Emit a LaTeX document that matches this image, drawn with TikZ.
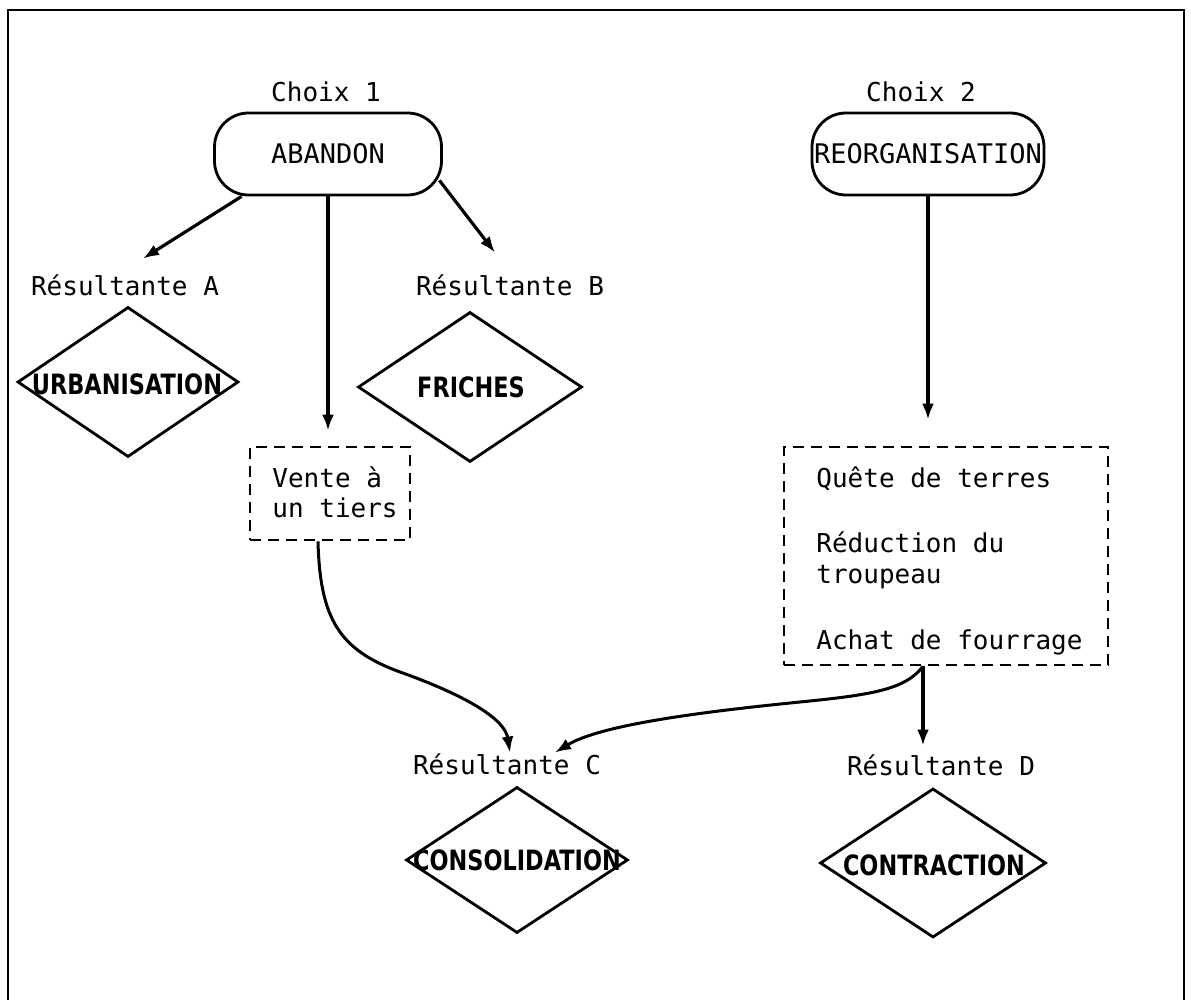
\documentclass[tikz,border=0pt]{standalone}
\usepackage{fontspec}
\usetikzlibrary{shapes.geometric,arrows.meta}
\newfontfamily\monofont{DejaVu Sans Mono}
\newfontfamily\heavyfont{DejaVu Sans}[FakeStretch=0.8]

\tikzset{
  lbl/.style={font=\monofont\fontsize{13}{15.5}\selectfont, inner sep=1pt,
    text height=10pt, text depth=3pt},
  choice/.style={draw, line width=1.4pt, rounded corners=17pt,
    minimum height=41pt, inner sep=0pt,
    font=\monofont\fontsize{13.5}{16}\selectfont},
  dia/.style={draw, diamond, line width=1.4pt, inner sep=0pt},
  dlabel/.style={font=\heavyfont\bfseries\fontsize{14}{16}\selectfont, inner sep=0pt},
  dbox/.style={draw, dash pattern=on 5.5pt off 3.5pt, line width=1.4pt, inner sep=0pt},
  arr/.style={line width=1.6pt, -{Latex[length=8pt,width=6pt]}},
  curvearr/.style={line width=1.5pt, -{Latex[length=8pt,width=6pt]}},
  frameline/.style={line width=1.4pt}
}

\begin{document}
\begin{tikzpicture}[x=0.5pt,y=-0.5pt]
\useasboundingbox (0,0) rectangle (1191,1000);

% outer frame, open at the bottom
\coordinate (fbl) at (8,1000);
\coordinate (ftl) at (8,10);
\coordinate (ftr) at (1184,10);
\coordinate (fbr) at (1184,1000);
\draw[frameline] (fbl) -- (ftl) -- (ftr) -- (fbr);

% the two choices
\node[lbl, anchor=base] (c1) at (326,102) {Choix 1};
\node[choice, minimum width=113.5pt] (abandon) at (328,154) {ABANDON};
\node[lbl, anchor=base] (c2) at (921,102) {Choix 2};
\node[choice, minimum width=116pt] (reorg) at (928,154) {REORGANISATION};

% outcome labels
\node[lbl, anchor=base] (resA) at (125,296) {Résultante A};
\node[lbl, anchor=base] (resB) at (510,296) {Résultante B};
\node[lbl, anchor=base] (resC) at (507,775) {Résultante C};
\node[lbl, anchor=base] (resD) at (941,776) {Résultante D};

% outcome diamonds
\node[dia, minimum width=110.5pt, minimum height=75pt] (diaA) at (128,382) {};
\node[dlabel] (txA) at (127,384) {URBANISATION};
\node[dia, minimum width=112pt, minimum height=75pt] (diaB) at (470,387) {};
\node[dlabel] (txB) at (471,387) {FRICHES};
\node[dia, minimum width=111pt, minimum height=73pt] (diaC) at (517,860) {};
\node[dlabel] (txC) at (517,860) {CONSOLIDATION};
\node[dia, minimum width=113pt, minimum height=74.5pt] (diaD) at (933,863) {};
\node[dlabel] (txD) at (934,865) {CONTRACTION};

% intermediate strategies
\node[dbox, minimum width=80pt, minimum height=46.5pt] (vente) at (330,493.5) {};
\node[lbl, anchor=base west] (v1) at (270,488) {Vente à};
\node[lbl, anchor=base west] (v2) at (270,518) {un tiers};

\node[dbox, minimum width=162pt, minimum height=109pt] (strat) at (946,556) {};
\node[lbl, anchor=base west] (s1) at (814,488) {Quête de terres};
\node[lbl, anchor=base west] (s2) at (814,553) {Réduction du};
\node[lbl, anchor=base west] (s3) at (814,584) {troupeau};
\node[lbl, anchor=base west] (s4) at (814,650) {Achat de fourrage};

% connectors from the choices
\draw[arr] ([xshift=14.25pt]abandon.south west) -- ([xshift=9pt,yshift=7.5pt]resA.north);
\draw[arr, shorten >=7.5pt] (abandon.south) -- (abandon.south |- vente.north);
\draw[arr] ([xshift=-1.75pt,yshift=8pt]abandon.south east) -- ([xshift=-7.5pt,yshift=10.5pt]resB.north);
\draw[arr, shorten >=13pt] (reorg.south) -- (reorg.south |- strat.north);

% connectors towards the outcomes
\coordinate (vout) at ([xshift=-6pt]vente.south);
\draw[curvearr] (vout) .. controls (320,620) and (340,650) .. (400,672)
  .. controls (470,697) and (505,720) .. ([xshift=1.5pt]resC.north);

\coordinate (sout) at ([xshift=-11.5pt]strat.south);
\draw[curvearr] (sout) .. controls (905,690) and (870,695) .. (800,702)
  .. controls (700,712) and (600,725) .. ([xshift=24pt]resC.north);
\draw[arr, shorten >=4pt] (sout) -- (sout |- resD.north);
\end{tikzpicture}
\end{document}
